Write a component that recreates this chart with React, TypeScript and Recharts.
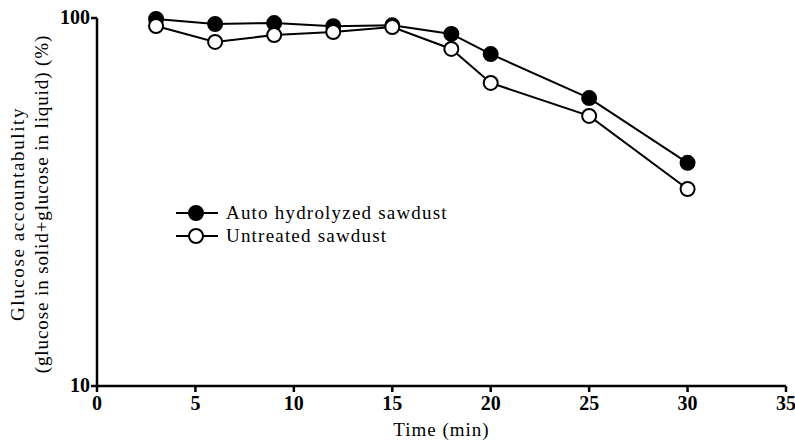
import React from "react";
import { LineChart, Line, XAxis, YAxis } from "recharts";

// time points (min)
const times = [3, 6, 9, 12, 15, 18, 20, 25, 30];
// glucose accountability (%)
const autoHydrolyzed = [99.4, 96.3, 96.9, 95.0, 95.5, 90.5, 79.8, 60.6, 40.4];
const untreated = [95.1, 86.1, 89.9, 91.6, 94.5, 82.4, 66.6, 54.2, 34.3];

const xTicks = [0, 5, 10, 15, 20, 25, 30, 35];
const yTicks = [10, 100];

const seriesNames = ["Auto hydrolyzed sawdust", "Untreated sawdust"];

const data = times.map((t, i) => ({
  time: t,
  auto: autoHydrolyzed[i],
  untreated: untreated[i],
}));

const FONT = "'Liberation Serif', 'Times New Roman', serif";

const XTick = (props: any) => {
  const { x, y, payload } = props;
  return (
    <text
      x={x}
      y={y + 16}
      textAnchor="middle"
      fontFamily={FONT}
      fontSize={20}
      fontWeight="bold"
      fill="#000"
    >
      {payload.value}
    </text>
  );
};

const YTick = (props: any) => {
  const { x, y, payload } = props;
  return (
    <text
      x={x + 1}
      y={y + 6}
      textAnchor="end"
      fontFamily={FONT}
      fontSize={20}
      fontWeight="bold"
      fill="#000"
    >
      {payload.value}
    </text>
  );
};

// legend sits inside the plot, so it is drawn over the chart by hand
const LegendBox = () => (
  <div
    style={{
      position: "absolute",
      left: 175,
      top: 201,
      fontFamily: FONT,
      fontSize: 19,
      letterSpacing: 1.2,
      color: "#000",
    }}
  >
    {seriesNames.map((name, i) => (
      <div key={name} style={{ display: "flex", alignItems: "center", height: 23 }}>
        <svg width={44} height={20}>
          <line x1={1} y1={10} x2={43} y2={10} stroke="#000" strokeWidth={2} />
          <circle
            cx={21}
            cy={10}
            r={7}
            fill={i === 0 ? "#000" : "#fff"}
            stroke="#000"
            strokeWidth={2}
          />
        </svg>
        <span style={{ marginLeft: 7, lineHeight: "20px", whiteSpace: "nowrap" }}>{name}</span>
      </div>
    ))}
  </div>
);

const YLabel = () => (
  <g fontFamily={FONT} fontSize={19} fill="#000">
    <text
      x={0}
      y={0}
      textAnchor="middle"
      transform="translate(24, 214) rotate(-90)"
      letterSpacing={1.6}
    >
      Glucose accountabulity
    </text>
    <text
      x={0}
      y={0}
      textAnchor="middle"
      transform="translate(48, 204) rotate(-90)"
      letterSpacing={0.9}
    >
      (glucose in solid+glucose in liquid) (%)
    </text>
  </g>
);

export default function App() {
  return (
    <div style={{ position: "absolute", left: 0, top: 0, width: 795, height: 446, background: "#fff" }}>
      <LineChart
        width={795}
        height={446}
        data={data}
        margin={{ top: 18, right: 9, bottom: 6, left: 0 }}
      >
        <XAxis
          dataKey="time"
          type="number"
          domain={[0, 35]}
          ticks={xTicks}
          interval={0}
          height={54}
          tickSize={6}
          axisLine={{ stroke: "#000", strokeWidth: 2.5 }}
          tickLine={{ stroke: "#000", strokeWidth: 2.5 }}
          tick={<XTick />}
          label={{
            value: "Time (min)",
            position: "insideBottom",
            offset: 4,
            fill: "#000",
            fontFamily: FONT,
            fontSize: 19,
            letterSpacing: 1,
          }}
        />
        <YAxis
          scale="log"
          domain={[10, 100]}
          ticks={yTicks}
          interval={0}
          width={97}
          tickSize={6}
          axisLine={{ stroke: "#000", strokeWidth: 2.5 }}
          tickLine={{ stroke: "#000", strokeWidth: 2.5 }}
          tick={<YTick />}
          label={{ content: () => <YLabel /> }}
        />
        <Line
          dataKey="auto"
          name={seriesNames[0]}
          stroke="#000"
          strokeWidth={2}
          dot={{ r: 7, fill: "#000", stroke: "#000", strokeWidth: 2 }}
          isAnimationActive={false}
        />
        <Line
          dataKey="untreated"
          name={seriesNames[1]}
          stroke="#000"
          strokeWidth={2}
          dot={{ r: 7, fill: "#fff", stroke: "#000", strokeWidth: 2 }}
          isAnimationActive={false}
        />
      </LineChart>
      <LegendBox />
    </div>
  );
}
